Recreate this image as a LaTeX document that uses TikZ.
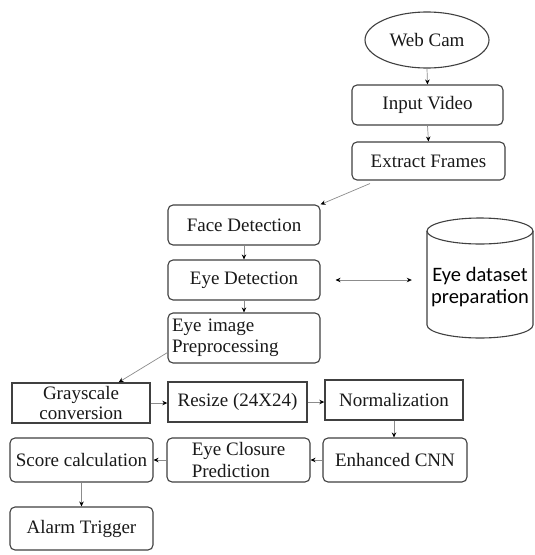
\documentclass[tikz,border=0pt]{standalone}
\usepackage{fontspec}
\setmainfont{Liberation Serif}
\newfontfamily\sansf{Carlito}
\usetikzlibrary{shapes.geometric,arrows.meta,calc}
\begin{document}
\begin{tikzpicture}[x=1pt,y=1pt,
  base/.style={draw=black!75, line width=1.1pt, inner sep=0pt, font=\fontsize{19}{22}\selectfont, text=black!90},
  rbox/.style={base, rounded corners=5pt},
  sbox/.style={base, line width=1.4pt},
  conn/.style={draw=black!45, line width=0.7pt, -{Stealth[length=5pt,width=4.5pt,black]}},
  dconn/.style={draw=black!45, line width=0.7pt, {Stealth[length=5pt,width=4.5pt,black]}-{Stealth[length=5pt,width=4.5pt,black]}}]
\useasboundingbox (0,0) rectangle (535,-555);
\fill[white] (0,0) rectangle (535,-555);

\node[base, ellipse, minimum width=124, minimum height=56] (webcam) at (427,-40) {Web Cam};
\node[rbox, minimum width=151, minimum height=40] (input) at (427.5,-105) {Input Video};
\node[rbox, minimum width=153, minimum height=38] (extract) at (428.5,-161) {Extract Frames};

\node[rbox, minimum width=152, minimum height=40] (face) at (244,-225) {Face Detection};
\node[rbox, minimum width=152, minimum height=40] (eyedet) at (244,-280) {Eye Detection};
\node[rbox, minimum width=152, minimum height=50, text width=144, inner xsep=4pt, align=left] (preproc) at (244,-338) {Eye image\\[-1pt]Preprocessing};

% dataset cylinder
\node[inner sep=0pt, minimum width=106, minimum height=120] (data) at (480,-278) {};
\draw[draw=black!75, line width=1.1pt, fill=white]
  (427,-231) -- (427,-325) arc[start angle=180, end angle=360, x radius=53, y radius=13]
  -- (533,-231) arc[start angle=0, end angle=180, x radius=53, y radius=13];
\draw[draw=black!75, line width=1.1pt] (427,-231) arc[start angle=180, end angle=360, x radius=53, y radius=13];
\node[font=\sansf\fontsize{20.5}{22}\selectfont, align=center, inner sep=0pt] (datatext) at (data.center |- 0,-287) {Eye dataset\\preparation};

\node[sbox, minimum width=138, minimum height=40, align=center] (gray) at (81,-403) {Grayscale\\[-2pt]conversion};
\node[sbox, minimum width=139, minimum height=40] (resize) at (237.5,-402) {Resize (24X24)};
\node[sbox, minimum width=138, minimum height=40] (norm) at (394,-400) {Normalization};
\node[rbox, minimum width=144, minimum height=44] (cnn) at (395,-460) {Enhanced CNN};
\node[rbox, minimum width=143, minimum height=44, align=left] (closure) at (238.5,-460) {Eye Closure\\Prediction};
\node[rbox, minimum width=143, minimum height=44] (score) at (81.5,-460) {Score calculation};
\node[rbox, minimum width=143, minimum height=43] (alarm) at (81.5,-528.5) {Alarm Trigger};

\draw[conn] (webcam.south) -- (input.north);
\draw[conn] (input.south) -- (extract.north);
\draw[conn] ($(extract.south west)!0.12!(extract.south east)+(0,-3)$) -- (face.north east);
\draw[conn] (face.south) -- (eyedet.north);
\draw[conn] (eyedet.south) -- (preproc.south |- preproc.north);
\draw[dconn, shorten <=15pt, shorten >=15pt] (eyedet.east) -- (data.west |- eyedet.east);
\draw[conn] ($(preproc.south west)+(0,11)$) -- ($(gray.north west)!0.77!(gray.north east)$);
\draw[conn] (gray.east) -- (gray.east -| resize.west);
\draw[conn] (resize.east) -- (resize.east -| norm.west);
\draw[conn] (norm.south) -- (norm.south |- cnn.north);
\draw[conn] (cnn.west) -- (closure.east);
\draw[conn] (closure.west) -- (score.east);
\draw[conn] (score.south) -- (alarm.north);
\end{tikzpicture}
\end{document}
